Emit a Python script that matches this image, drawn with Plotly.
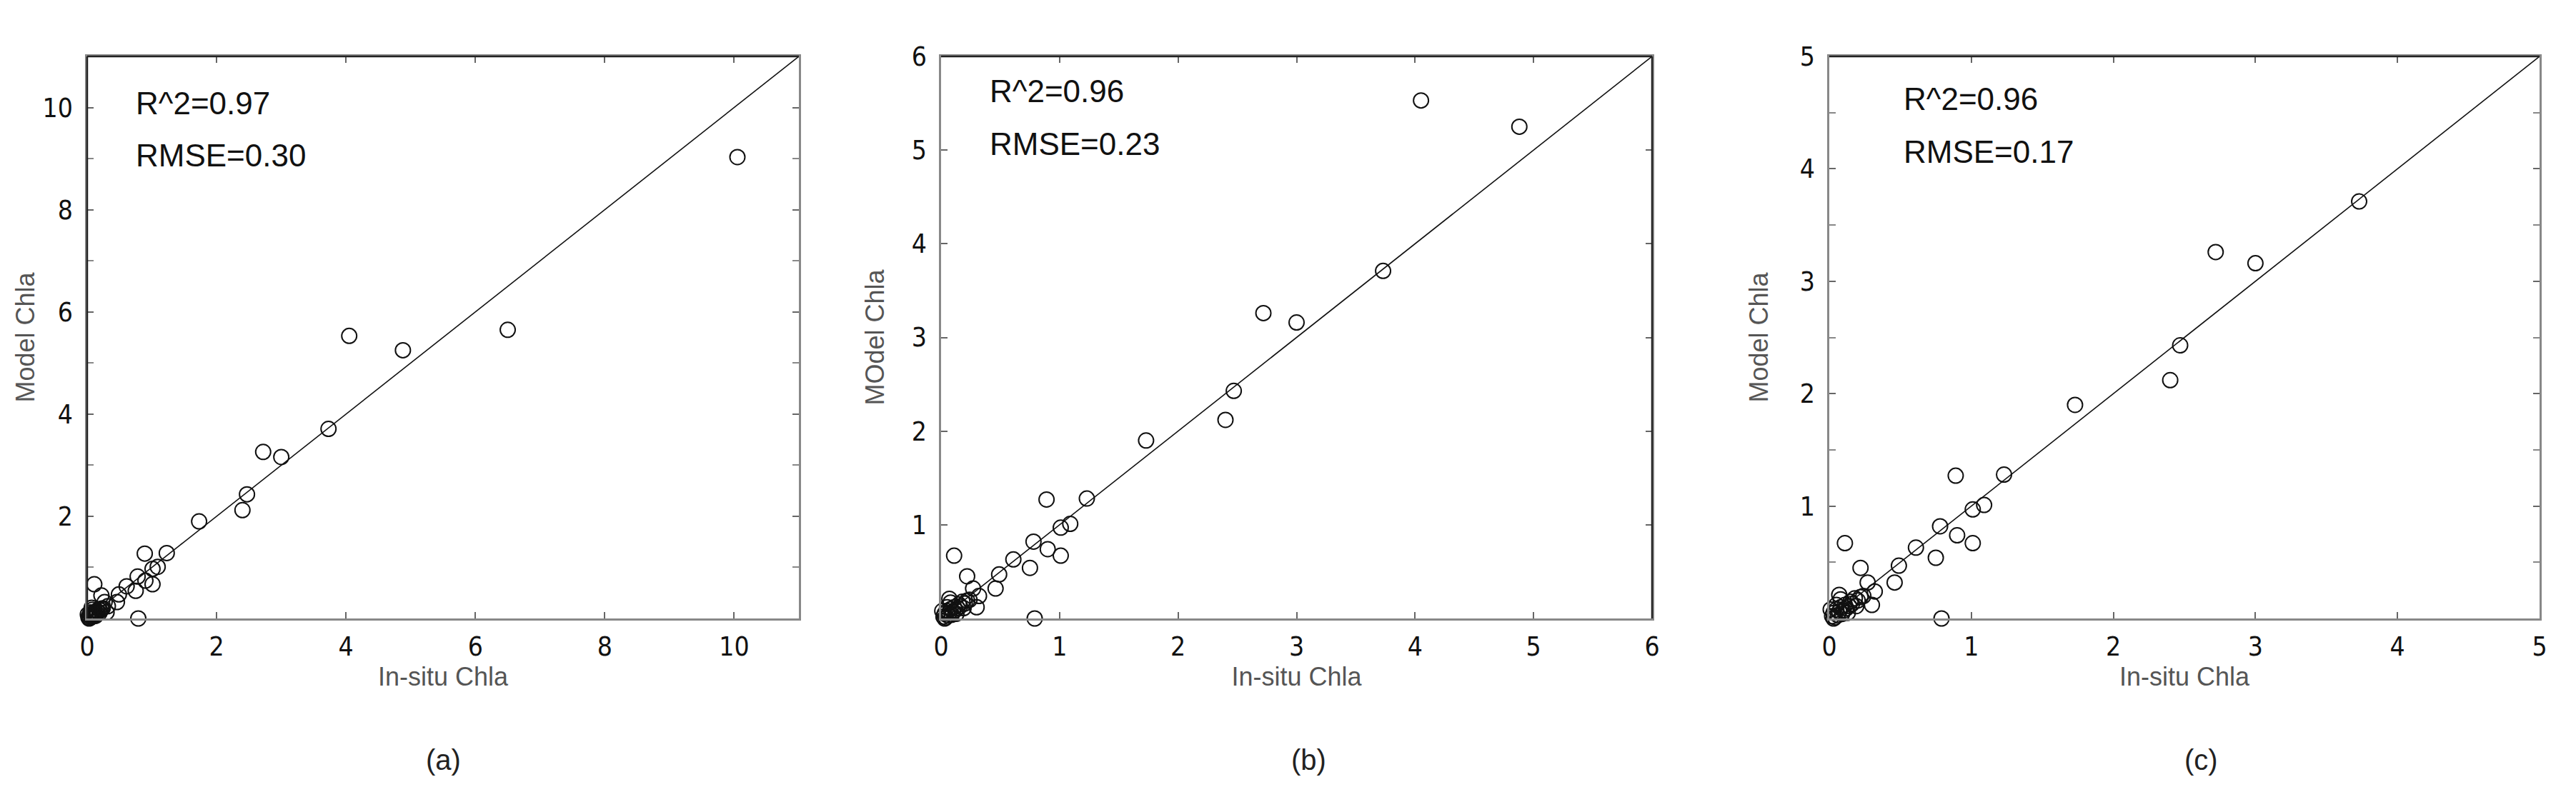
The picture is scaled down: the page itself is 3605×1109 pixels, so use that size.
import plotly.graph_objects as go

# In-situ vs model Chla (same samples in every panel, each panel clips to its range)
insitu_chla = [10.05, 6.50, 4.88, 4.05, 3.73, 2.72, 3.00, 2.47, 2.40, 1.73,
               0.89, 1.23, 1.09, 1.01, 0.78, 0.90, 1.01, 0.75, 0.61, 0.49,
               0.46, 0.11, 0.22, 0.79, 0.27, 0.32, 0.30, 0.19, 0.18, 0.07,
               0.08, 0.15, 0.02, 0.03, 0.04, 0.05, 0.06, 0.07, 0.08, 0.09,
               0.10, 0.12, 0.11, 0.13, 0.14, 0.16, 0.20, 0.22, 0.24, 0.01,
               0.05, 0.03]
model_chla = [9.03, 5.65, 5.25, 5.53, 3.71, 3.26, 3.16, 2.43, 2.12, 1.90,
              1.27, 1.28, 1.01, 0.97, 0.82, 0.74, 0.67, 0.54, 0.63, 0.47,
              0.32, 0.67, 0.45, 0.00, 0.32, 0.24, 0.12, 0.11, 0.18, 0.21,
              0.17, 0.15, 0.02, 0.05, 0.01, 0.08, 0.03, 0.06, 0.10, 0.04,
              0.07, 0.09, 0.12, 0.05, 0.11, 0.13, 0.16, 0.19, 0.20, 0.08,
              0.12, 0.00]

panel_labels = ["(a)", "(b)", "(c)"]
axis_max = [11, 6, 5]
r2_text = ["R^2=0.97", "R^2=0.96", "R^2=0.96"]
rmse_text = ["RMSE=0.30", "RMSE=0.23", "RMSE=0.17"]
y_titles = ["Model Chla", "MOdel Chla", "Model Chla"]
x_title = "In-situ Chla"
y_tickvals = [[2, 4, 6, 8, 10], [1, 2, 3, 4, 5, 6], [1, 2, 3, 4, 5]]
x_tickvals = [[0, 2, 4, 6, 8, 10], [0, 1, 2, 3, 4, 5, 6], [0, 1, 2, 3, 4, 5]]
y_minor = [1, None, 0.5]

W, H = 3605, 1109
x_dom = [(114 / W, 1110 / W), (1309 / W, 2304 / W), (2552 / W, 3546 / W)]
y_dom = (1 - 858 / H, 1 - 71 / H)
note_x = [0.066, 0.066, 0.103]
note_y = [(0.917, 0.824), (0.938, 0.844), (0.925, 0.831)]
title_standoff = [0, 28, 34]
caption_x = [612 / W, 1824 / W, 3072 / W]

# frame edges drawn darker than the grey axis line
dark_edges = [("top", "left"), ("top", "right"), ("top",)]

tick_font = dict(family="Liberation Sans Narrow, DejaVu Sans Condensed, Arial", size=37, color="#111")
title_font = dict(family="Liberation Sans, Arial", size=36, color="#555")

fig = go.Figure()

for i in range(3):
    xa = "x" if i == 0 else f"x{i + 1}"
    ya = "y" if i == 0 else f"y{i + 1}"
    m = axis_max[i]
    xs = [a for a, b in zip(insitu_chla, model_chla) if a <= m and b <= m]
    ys = [b for a, b in zip(insitu_chla, model_chla) if a <= m and b <= m]

    # 1:1 line
    fig.add_trace(go.Scatter(x=[0, m], y=[0, m], mode="lines",
                             line=dict(color="#111", width=1.6),
                             xaxis=xa, yaxis=ya, showlegend=False, hoverinfo="skip"))
    fig.add_trace(go.Scatter(x=xs, y=ys, mode="markers",
                             marker=dict(symbol="circle-open", size=21, color="#111",
                                         line=dict(width=2, color="#111")),
                             cliponaxis=False, xaxis=xa, yaxis=ya, showlegend=False))

    xkey = "xaxis" if i == 0 else f"xaxis{i + 1}"
    ykey = "yaxis" if i == 0 else f"yaxis{i + 1}"
    fig.layout[xkey] = dict(
        domain=list(x_dom[i]), anchor=ya, range=[0, m],
        tickvals=x_tickvals[i], ticks="inside", ticklen=9, tickwidth=2, tickcolor="#666",
        showline=True, linecolor="#888", linewidth=2.5, mirror="ticks",
        showgrid=False, zeroline=False, tickfont=tick_font, ticklabelstandoff=5,
        title=dict(text=x_title, font=title_font, standoff=8), automargin=False,
    )
    ydict = dict(
        domain=list(y_dom), anchor=xa, range=[0, m],
        tickvals=y_tickvals[i], ticks="inside", ticklen=9, tickwidth=2, tickcolor="#666",
        showline=True, linecolor="#888", linewidth=2.5, mirror="ticks",
        showgrid=False, zeroline=False, tickfont=tick_font, ticklabelstandoff=10,
        title=dict(text=y_titles[i], font=title_font, standoff=title_standoff[i]),
        automargin=False,
    )
    if y_minor[i]:
        ydict["minor"] = dict(dtick=y_minor[i], tick0=0, ticks="inside", ticklen=9,
                              tickwidth=2, tickcolor="#888")
    fig.layout[ykey] = ydict

    for edge in dark_edges[i]:
        if edge == "top":
            x0, x1, y0, y1 = 0, 1, 1, 1
        elif edge == "left":
            x0, x1, y0, y1 = 0, 0, 0, 1
        else:
            x0, x1, y0, y1 = 1, 1, 0, 1
        fig.add_shape(type="line", xref=f"{xa} domain", yref=f"{ya} domain",
                      x0=x0, x1=x1, y0=y0, y1=y1,
                      line=dict(color="#222", width=2.5), layer="above")

    for txt, yy in zip([r2_text[i], rmse_text[i]], note_y[i]):
        fig.add_annotation(text=txt, xref=f"{xa} domain", yref=f"{ya} domain",
                           x=note_x[i], y=yy, xanchor="left", yanchor="middle",
                           showarrow=False,
                           font=dict(family="Liberation Sans, Arial", size=44, color="#111"))

    fig.add_annotation(text=panel_labels[i], xref="paper", yref="paper",
                       x=caption_x[i], y=1 - 1056 / H, xanchor="center", yanchor="middle",
                       showarrow=False,
                       font=dict(family="Liberation Sans, Arial", size=40, color="#222"))

fig.update_layout(
    width=W, height=H,
    margin=dict(l=0, r=0, t=0, b=0),
    paper_bgcolor="white", plot_bgcolor="white",
)

fig.write_html("out.html")
